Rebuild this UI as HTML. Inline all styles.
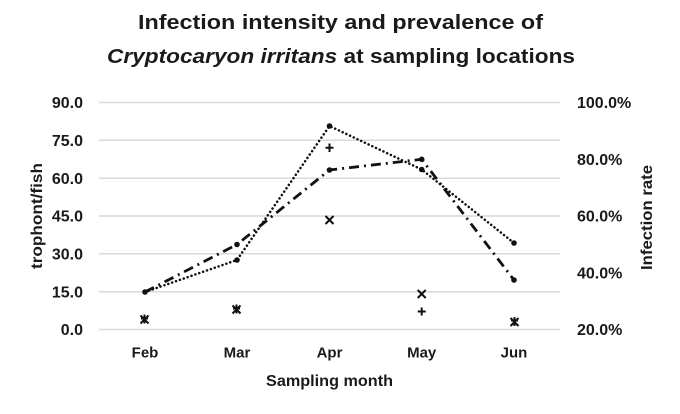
<!DOCTYPE html>
<html>
<head>
<meta charset="utf-8">
<style>
html,body{margin:0;padding:0;background:#fff;}
svg{display:block;}
text{font-family:"Liberation Sans",Arial,sans-serif;font-weight:bold;fill:#1a1a1a;}
</style>
</head>
<body>
<svg width="680" height="414" viewBox="0 0 680 414" xmlns="http://www.w3.org/2000/svg">
<rect width="680" height="414" fill="#fff"/>
<!-- Title -->
<text x="340.5" y="29" font-size="20.5" text-anchor="middle" textLength="405" lengthAdjust="spacingAndGlyphs">Infection intensity and prevalence of</text>
<text x="341" y="63" font-size="20.5" text-anchor="middle" textLength="468" lengthAdjust="spacingAndGlyphs"><tspan font-style="italic">Cryptocaryon irritans</tspan> at sampling locations</text>

<!-- gridlines -->
<g stroke="#d9d9d9" stroke-width="1.5">
<line x1="99" y1="102.5" x2="560" y2="102.5"/>
<line x1="99" y1="140.3" x2="560" y2="140.3"/>
<line x1="99" y1="178.2" x2="560" y2="178.2"/>
<line x1="99" y1="216" x2="560" y2="216"/>
<line x1="99" y1="253.8" x2="560" y2="253.8"/>
<line x1="99" y1="291.7" x2="560" y2="291.7"/>
<line x1="99" y1="329.5" x2="560" y2="329.5"/>
</g>

<!-- left axis labels -->
<g font-size="16" text-anchor="end">
<text x="83" y="108.2">90.0</text>
<text x="83" y="146">75.0</text>
<text x="83" y="183.9">60.0</text>
<text x="83" y="221.7">45.0</text>
<text x="83" y="259.5">30.0</text>
<text x="83" y="297.4">15.0</text>
<text x="83" y="335.2">0.0</text>
</g>
<!-- right axis labels -->
<g font-size="16">
<text x="577" y="108.2">100.0%</text>
<text x="577" y="165">80.0%</text>
<text x="577" y="221.7">60.0%</text>
<text x="577" y="278.5">40.0%</text>
<text x="577" y="335.2">20.0%</text>
</g>

<!-- axis titles -->
<text transform="translate(42,216) rotate(-90)" font-size="16" text-anchor="middle" textLength="106" lengthAdjust="spacingAndGlyphs">trophont/fish</text>
<text transform="translate(652,217.5) rotate(-90)" font-size="16" text-anchor="middle" textLength="105" lengthAdjust="spacingAndGlyphs">Infection rate</text>

<!-- x labels -->
<g font-size="15" text-anchor="middle">
<text x="145" y="357.5">Feb</text>
<text x="237" y="357.5">Mar</text>
<text x="329.5" y="357.5">Apr</text>
<text x="421.7" y="357.5">May</text>
<text x="514" y="357.5">Jun</text>
</g>
<text x="329.5" y="386" font-size="16" text-anchor="middle" textLength="127" lengthAdjust="spacingAndGlyphs">Sampling month</text>

<!-- dotted series -->
<polyline points="145,292 237,260 329.5,126 421.7,169.5 514,243" fill="none" stroke="#111" stroke-width="2.5" stroke-dasharray="0.1 4" stroke-linecap="round"/>
<!-- dash-dot series -->
<polyline points="145,292 237,244.5 329.5,170 421.7,159.3 514,280" fill="none" stroke="#111" stroke-width="2.8" stroke-dasharray="10 5 2 5" stroke-linecap="butt"/>

<!-- point dots -->
<g fill="#111">
<circle cx="145" cy="292" r="2.8"/>
<circle cx="237" cy="260" r="2.8"/>
<circle cx="329.5" cy="126" r="2.8"/>
<circle cx="421.7" cy="169.5" r="2.8"/>
<circle cx="514" cy="243" r="2.8"/>
<circle cx="237" cy="244.5" r="2.8"/>
<circle cx="329.5" cy="170" r="2.8"/>
<circle cx="421.7" cy="159.3" r="2.8"/>
<circle cx="514" cy="280" r="2.8"/>
</g>

<!-- x markers -->
<g stroke="#111" stroke-width="2" fill="none">
<!-- Feb x + -->
<path d="M140.5,315.5 L148.5,323.5 M148.5,315.5 L140.5,323.5"/>
<path d="M144.5,314.5 L144.5,323.5 M141,318.5 L148,318.5"/>
<!-- Mar -->
<path d="M232.5,305.5 L240.5,313.5 M240.5,305.5 L232.5,313.5"/>
<path d="M236.5,304.5 L236.5,313.5 M233,308.5 L240,308.5"/>
<!-- Apr -->
<path d="M325.5,216 L333.5,224 M333.5,216 L325.5,224"/>
<path d="M329.5,143.5 L329.5,152 M325.5,147.7 L333.5,147.7"/>
<!-- May -->
<path d="M417.7,290 L425.7,298 M425.7,290 L417.7,298"/>
<path d="M421.7,307.5 L421.7,315.5 M417.7,311.5 L425.7,311.5"/>
<!-- Jun -->
<path d="M510.5,318 L518.5,326 M518.5,318 L510.5,326"/>
<path d="M514.5,317 L514.5,326 M511,320.5 L518,320.5"/>
</g>
</svg>
</body>
</html>
